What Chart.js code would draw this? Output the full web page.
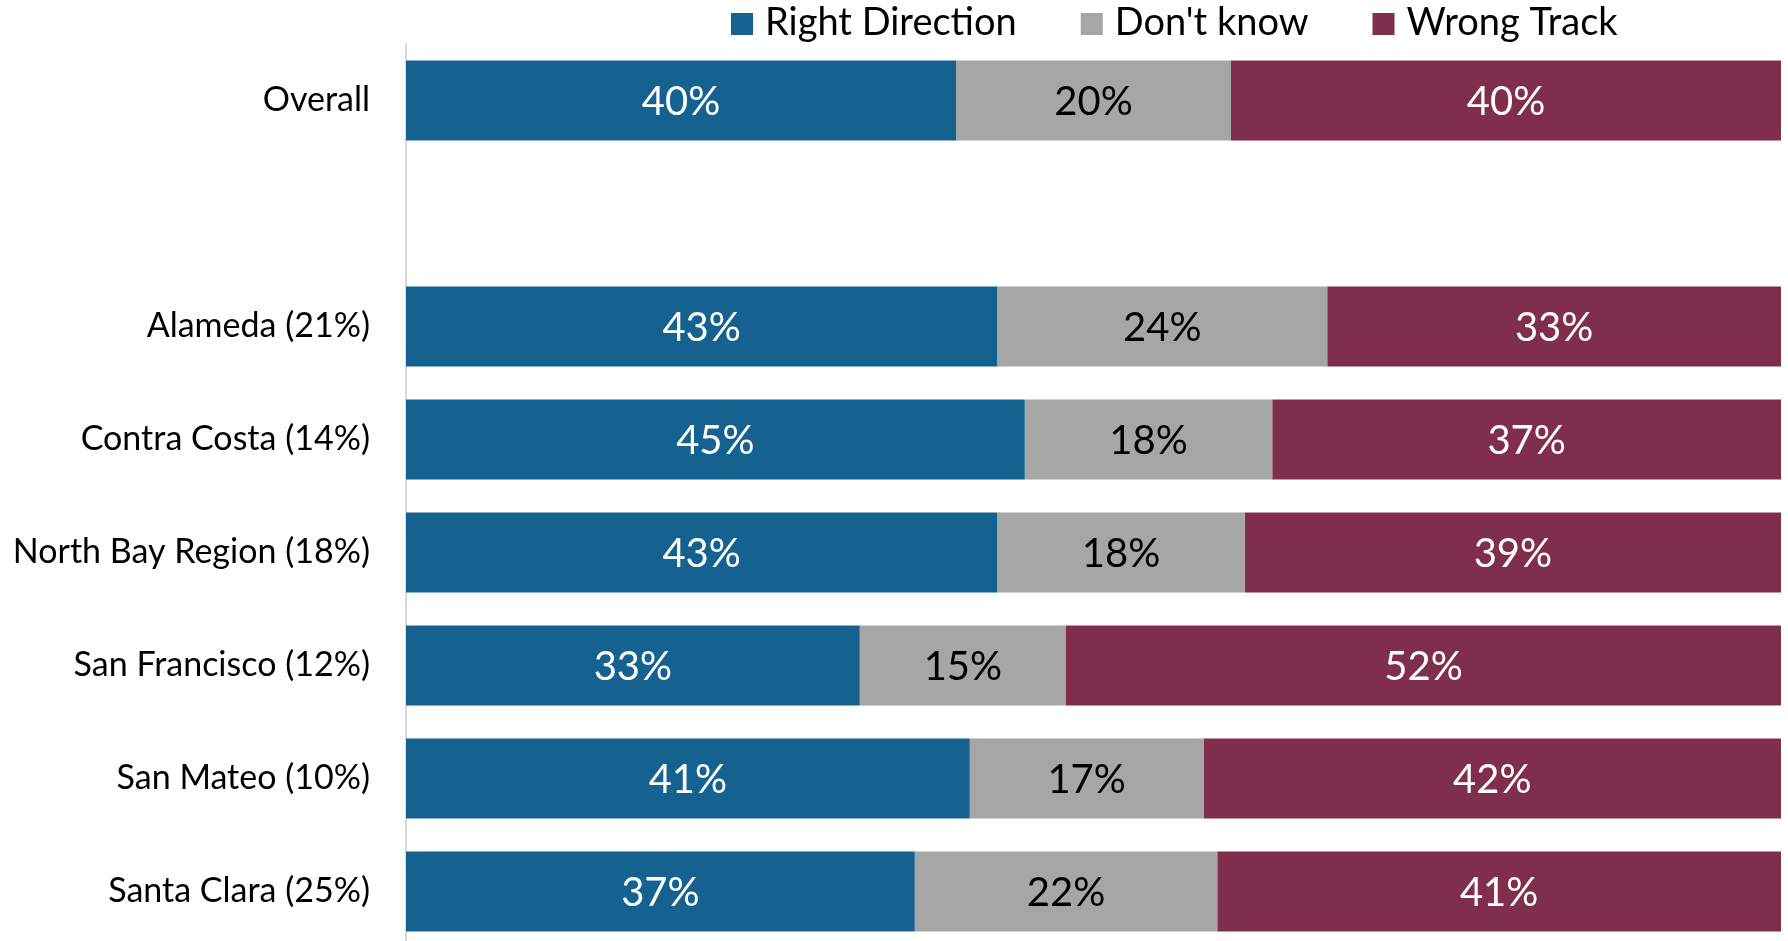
<!DOCTYPE html>
<html>
<head>
<meta charset="utf-8">
<title>Right direction / wrong track by county</title>
<script src="https://cdn.jsdelivr.net/npm/chart.js@4.4.1/dist/chart.umd.min.js"></script>
<style>
  html, body { margin: 0; padding: 0; background: #fff; overflow: hidden; }
  #chart { display: block; }
</style>
</head>
<body>
<canvas id="chart" width="1788" height="948"></canvas>
<script>
const categories = [
  "Overall",
  "",
  "Alameda (21%)",
  "Contra Costa (14%)",
  "North Bay Region (18%)",
  "San Francisco (12%)",
  "San Mateo (10%)",
  "Santa Clara (25%)",
];
const rightDirection = [40, null, 43, 45, 43, 33, 41, 37];
const dontKnow = [20, null, 24, 18, 18, 15, 17, 22];
const wrongTrack = [40, null, 33, 37, 39, 52, 42, 41];

const fontFamily = "Lato, 'Open Sans', sans-serif";

// value labels in the middle of each segment
const segmentLabels = {
  id: "segmentLabels",
  afterDatasetsDraw(chart) {
    const { ctx } = chart;
    ctx.save();
    ctx.font = `40px ${fontFamily}`;
    ctx.textAlign = "center";
    ctx.textBaseline = "middle";
    chart.data.datasets.forEach((dataset, i) => {
      const meta = chart.getDatasetMeta(i);
      meta.data.forEach((bar, index) => {
        const value = dataset.data[index];
        if (value == null) return;
        const { x, y } = bar.getCenterPoint();
        ctx.fillStyle = dataset.labelColor;
        ctx.fillText(`${value}%`, x, y + 2);
      });
    });
    ctx.restore();
  },
};

// legend drawn by hand so it can sit right of centre like the original
const topLegend = {
  id: "topLegend",
  afterDraw(chart) {
    const { ctx } = chart;
    const box = 22;
    let x = 731;
    ctx.save();
    ctx.font = `38px ${fontFamily}`;
    ctx.textBaseline = "middle";
    ctx.textAlign = "left";
    chart.data.datasets.forEach((dataset) => {
      ctx.fillStyle = dataset.backgroundColor;
      ctx.fillRect(x, 13, box, box);
      x += box + 12;
      ctx.fillStyle = "#000";
      ctx.fillText(dataset.label, x, 23);
      x += ctx.measureText(dataset.label).width + 64;
    });
    ctx.restore();
  },
};

new Chart(document.getElementById("chart"), {
  type: "bar",
  data: {
    labels: categories,
    datasets: [
      { label: "Right Direction", data: rightDirection, backgroundColor: "#156190", labelColor: "#fff" },
      { label: "Don't know", data: dontKnow, backgroundColor: "#a6a6a6", labelColor: "#000" },
      { label: "Wrong Track", data: wrongTrack, backgroundColor: "#7f2f4c", labelColor: "#fff" },
    ],
  },
  options: {
    indexAxis: "y",
    responsive: false,
    animation: false,
    devicePixelRatio: 1,
    layout: { padding: { top: 44, right: 7, bottom: 0, left: 0 } },
    datasets: {
      bar: { barPercentage: 0.707, categoryPercentage: 1 },
    },
    plugins: {
      legend: { display: false },
      tooltip: { enabled: false },
    },
    scales: {
      x: {
        stacked: true,
        min: 0,
        max: 100,
        display: false,
      },
      y: {
        stacked: true,
        afterFit: (scale) => {
          scale.width = 406;
          // tick padding would otherwise push the plot area in at top and bottom
          scale.paddingTop = 0;
          scale.paddingBottom = 0;
        },
        grid: { display: false, drawTicks: false },
        border: { display: true, color: "#d9d9d9", width: 2 },
        ticks: {
          color: "#000",
          padding: 36,
          font: { family: fontFamily, size: 34 },
        },
      },
    },
  },
  plugins: [segmentLabels, topLegend],
});
</script>
</body>
</html>
